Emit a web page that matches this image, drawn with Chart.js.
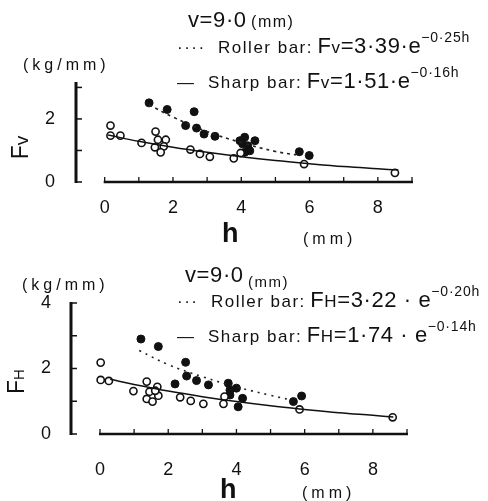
<!DOCTYPE html>
<html>
<head>
<meta charset="utf-8">
<script src="https://cdn.jsdelivr.net/npm/chart.js@4/dist/chart.umd.min.js"></script>
<style>
  html, body { margin: 0; padding: 0; background: #fff; }
  body { width: 488px; height: 501px; position: relative; overflow: hidden; font-family: "Liberation Sans", Arial, sans-serif; color: #111; }
  canvas { position: absolute; left: 0; }
  .t { position: absolute; white-space: nowrap; line-height: 1; }
  .lab { font-size: 17px; letter-spacing: 1.5px; }
  .eq { font-size: 22px; letter-spacing: 0.6px; }
  .eq small { font-size: 17px; }
  .eq sup { font-size: 14px; position: relative; top: -3px; letter-spacing: 0.8px; }
  .unit { font-size: 16px; letter-spacing: 4px; }
  .ttl { font-size: 23px; }
  .hh { font-size: 27px; font-weight: bold; }
</style>
</head>
<body>
<canvas id="top" width="488" height="250" style="top:0"></canvas>
<canvas id="bottom" width="488" height="251" style="top:250px"></canvas>

<!-- top chart texts -->
<div class="t" style="left:188px; top:9px"><span class="eq">v=9·0</span> <span style="font-size:16px; letter-spacing:1.5px">(mm)</span></div>
<div class="t" style="left:177px; top:33px"><span class="lab">····&nbsp; Roller bar:</span> <span class="eq">F<small>v</small>=3·39·e<sup>−0·25h</sup></span></div>
<div class="t" style="left:177px; top:68px"><span class="lab">—&nbsp; Sharp bar:</span> <span class="eq">F<small>v</small>=1·51·e<sup>−0·16h</sup></span></div>
<div class="t unit" style="left:23px; top:57px">(kg/mm)</div>
<div class="t ttl" style="left:9px; top:136px; transform: rotate(-90deg);">F<span style="font-size:19px">v</span></div>
<div class="t hh" style="left:222px; top:220px">h</div>
<div class="t unit" style="left:303px; top:231px">(mm)</div>

<!-- bottom chart texts -->
<div class="t" style="left:185px; top:264px"><span class="eq">v=9·0</span> <span style="font-size:15px; letter-spacing:1.5px; position:relative; top:5px">(mm)</span></div>
<div class="t" style="left:177px; top:287px"><span class="lab">···&nbsp; Roller bar:</span> <span class="eq">F<small>H</small>=3·22 · e<sup>−0·20h</sup></span></div>
<div class="t" style="left:177px; top:322px"><span class="lab">—&nbsp; Sharp bar:</span> <span class="eq">F<small>H</small>=1·74 · e<sup>−0·14h</sup></span></div>
<div class="t unit" style="left:22px; top:277px">(kg/mm)</div>
<div class="t ttl" style="left:4px; top:370px; transform: rotate(-90deg);">F<span style="font-size:15px">H</span></div>
<div class="t hh" style="left:220px; top:476px">h</div>
<div class="t unit" style="left:302px; top:485px">(mm)</div>

<script>
// ---- upper panel: Fv vs h ----
const topRollerH = [1.30, 1.83, 2.62, 2.37, 2.69, 2.91, 3.23, 3.96, 4.10, 4.40, 4.04, 4.19, 4.25, 4.10, 5.70, 5.99];
const topRollerF = [2.51, 2.30, 2.23, 1.79, 1.71, 1.52, 1.45, 1.31, 1.42, 1.31, 1.21, 1.15, 0.99, 0.94, 0.96, 0.84];
const topSharpH = [0.17, 0.17, 0.46, 1.08, 1.49, 1.56, 1.79, 1.47, 1.73, 1.64, 2.51, 2.79, 3.08, 3.78, 3.98, 5.84, 8.50];
const topSharpF = [1.79, 1.47, 1.47, 1.24, 1.60, 1.34, 1.34, 1.10, 1.13, 0.94, 1.03, 0.89, 0.80, 0.75, 0.92, 0.57, 0.29];
const topRollerFitH = [1.3, 2, 3, 4, 5, 5.6];
const topRollerFitF = [2.45, 2.06, 1.60, 1.25, 0.97, 0.86];
const topSharpFitH = [0.1, 1, 2, 3, 4, 5, 6, 7, 8, 8.6];
const topSharpFitF = [1.49, 1.29, 1.10, 0.94, 0.80, 0.68, 0.58, 0.49, 0.42, 0.38];
const topYTicks = [0, 1, 2, 3];
const topYLabels = ['0', '', '2', ''];

// ---- lower panel: FH vs h ----
const botRollerH = [1.20, 1.71, 2.51, 2.54, 2.83, 2.20, 3.18, 3.76, 4.00, 3.81, 3.81, 4.18, 4.05, 5.67, 5.91];
const botRollerF = [2.90, 2.67, 2.19, 1.77, 1.63, 1.53, 1.50, 1.55, 1.40, 1.34, 1.19, 1.09, 0.83, 0.99, 1.16];
const botSharpH = [0.02, 0.02, 0.26, 0.98, 1.37, 1.68, 1.45, 1.37, 1.71, 1.54, 1.62, 2.35, 2.66, 3.03, 3.65, 3.62, 5.85, 8.58];
const botSharpF = [2.18, 1.65, 1.62, 1.31, 1.60, 1.44, 1.29, 1.07, 1.17, 0.99, 1.32, 1.12, 1.01, 0.92, 1.14, 0.92, 0.75, 0.51];
const botRollerFitH = [1.15, 2, 3, 4, 5, 5.6];
const botRollerFitF = [2.55, 2.12, 1.75, 1.44, 1.18, 1.04];
const botSharpFitH = [0.3, 1, 2, 3, 4, 5, 6, 7, 8, 8.6];
const botSharpFitF = [1.67, 1.51, 1.31, 1.14, 0.99, 0.86, 0.75, 0.65, 0.57, 0.52];
const botYTicks = [0, 1, 2, 3, 4];
const botYLabels = ['0', '', '2', '', '4'];

const hTicks = [0, 1, 2, 3, 4, 5, 6, 7, 8, 9];
const hLabels = ['0', '', '2', '', '4', '', '6', '', '8', ''];

function pts(xs, ys) {
    return xs.map((x, i) => ({ x: x, y: ys[i] }));
}

// hand-drawn looking axes: bracket y axis, x axis with inward ticks
const axisFrame = {
    id: 'axisFrame',
    afterDraw(chart, args, opts) {
        const ctx = chart.ctx;
        const xs = chart.scales.x;
        const ys = chart.scales.y;
        const y0 = ys.getPixelForValue(0);
        const left = chart.chartArea.left;
        ctx.save();
        ctx.strokeStyle = '#111';
        ctx.lineCap = 'butt';

        // x axis
        ctx.lineWidth = 2.5;
        ctx.beginPath();
        ctx.moveTo(xs.getPixelForValue(0) - 1, y0);
        ctx.lineTo(xs.getPixelForValue(9) + 1, y0);
        ctx.stroke();
        ctx.lineWidth = 1.3;
        hTicks.forEach(v => {
            const px = xs.getPixelForValue(v);
            ctx.beginPath();
            ctx.moveTo(px, y0);
            ctx.lineTo(px, y0 - 5);
            ctx.stroke();
        });

        // y axis
        ctx.lineWidth = 3;
        ctx.beginPath();
        ctx.moveTo(left, ys.getPixelForValue(ys.max) - 1);
        ctx.lineTo(left, y0 + 1);
        ctx.stroke();
        ctx.lineWidth = 1.5;
        opts.yTicks.forEach(v => {
            const py = ys.getPixelForValue(v);
            ctx.beginPath();
            ctx.moveTo(left, py);
            ctx.lineTo(left + 6, py);
            ctx.stroke();
        });
        ctx.restore();
    }
};

function makeChart(id, cfg) {
    const ctx = document.getElementById(id);
    return new Chart(ctx, {
        type: 'scatter',
        data: {
            datasets: [
                {
                    type: 'line',
                    data: pts(cfg.rollerFitH, cfg.rollerFitF),
                    borderColor: '#222',
                    borderWidth: 1.6,
                    borderDash: cfg.dash,
                    pointRadius: 0,
                    tension: 0.4,
                    fill: false
                },
                {
                    type: 'line',
                    data: pts(cfg.sharpFitH, cfg.sharpFitF),
                    borderColor: '#111',
                    borderWidth: 1.5,
                    pointRadius: 0,
                    tension: 0.4,
                    fill: false
                },
                {
                    data: pts(cfg.sharpH, cfg.sharpF),
                    pointRadius: 3.6,
                    pointBackgroundColor: '#fff',
                    pointBorderColor: '#111',
                    pointBorderWidth: 1.6
                },
                {
                    data: pts(cfg.rollerH, cfg.rollerF),
                    pointRadius: 4,
                    pointBackgroundColor: '#111',
                    pointBorderColor: '#111',
                    pointBorderWidth: 1
                }
            ]
        },
        options: {
            responsive: false,
            animation: false,
            layout: { padding: { left: 0, right: cfg.padRight, top: cfg.padTop, bottom: 0 } },
            plugins: {
                legend: { display: false },
                tooltip: { enabled: false },
                axisFrame: { yTicks: cfg.yTicks }
            },
            scales: {
                x: {
                    type: 'linear',
                    min: cfg.xMin,
                    max: 9,
                    grid: { display: false },
                    border: { display: false },
                    afterBuildTicks: s => { s.ticks = hTicks.map(v => ({ value: v })); },
                    afterFit: s => { s.height = cfg.xHeight; },
                    ticks: {
                        autoSkip: false,
                        maxRotation: 0,
                        padding: cfg.xPad,
                        color: '#111',
                        font: { family: 'Liberation Sans', size: 18 },
                        callback: (v, i) => hLabels[i]
                    }
                },
                y: {
                    min: 0,
                    max: cfg.yMax,
                    grid: { display: false },
                    border: { display: false },
                    afterBuildTicks: s => { s.ticks = cfg.yTicks.map(v => ({ value: v })); },
                    afterFit: s => { s.width = cfg.yWidth; },
                    ticks: {
                        autoSkip: false,
                        padding: cfg.yPad,
                        color: '#111',
                        font: { family: 'Liberation Sans', size: 18 },
                        callback: (v, i) => cfg.yLabels[i]
                    }
                }
            }
        },
        plugins: [axisFrame]
    });
}

makeChart('top', {
    rollerH: topRollerH, rollerF: topRollerF,
    sharpH: topSharpH, sharpF: topSharpF,
    rollerFitH: topRollerFitH, rollerFitF: topRollerFitF,
    sharpFitH: topSharpFitH, sharpFitF: topSharpFitF,
    yTicks: topYTicks, yLabels: topYLabels,
    dash: [3, 4],
    xMin: -0.84, yMax: 3.14,
    padTop: 83, padRight: 76, xHeight: 68, yWidth: 76,
    xPad: 7, yPad: 13
});

makeChart('bottom', {
    rollerH: botRollerH, rollerF: botRollerF,
    sharpH: botSharpH, sharpF: botSharpF,
    rollerFitH: botRollerFitH, rollerFitF: botRollerFitF,
    sharpFitH: botSharpFitH, sharpFitF: botSharpFitF,
    yTicks: botYTicks, yLabels: botYLabels,
    dash: [2, 5],
    xMin: -0.85, yMax: 4,
    padTop: 53, padRight: 81, xHeight: 67, yWidth: 71,
    xPad: 17, yPad: 12
});
</script>
</body>
</html>
